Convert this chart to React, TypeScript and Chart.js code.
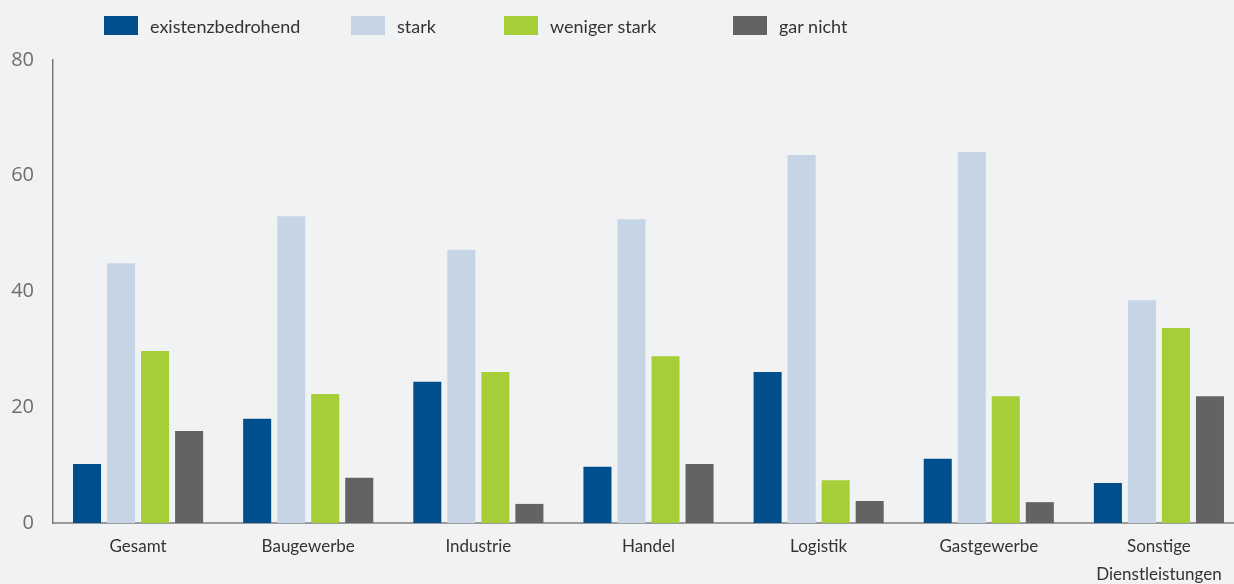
import React, { useEffect, useRef } from "react";
import { Chart, registerables } from "chart.js";

Chart.register(...registerables);

const categories: (string | string[])[] = [
  "Gesamt",
  "Baugewerbe",
  "Industrie",
  "Handel",
  "Logistik",
  "Gastgewerbe",
  ["Sonstige", "Dienstleistungen"],
];
const seriesNames = ["existenzbedrohend", "stark", "weniger stark", "gar nicht"];
const existenzbedrohend = [10.2, 18.0, 24.4, 9.7, 26.1, 11.1, 6.9];
const stark = [44.9, 53.0, 47.2, 52.5, 63.6, 64.1, 38.5];
const wenigerStark = [29.7, 22.3, 26.1, 28.8, 7.4, 21.9, 33.7];
const garNicht = [15.9, 7.8, 3.3, 10.2, 3.8, 3.6, 21.9];
const yTicks = [0, 20, 40, 60, 80];

const colors = ["#004f8c", "#c5d5e6", "#a6ce39", "#636365"];
const legendLeft = [104, 351, 504, 733];
const BG = "#f1f2f4";
const FONT = "Lato, 'Open Sans', sans-serif";

export default function App() {
  const ref = useRef<HTMLCanvasElement | null>(null);

  useEffect(() => {
    document.body.style.margin = "0";
    document.body.style.background = BG;
    const ctx = ref.current!;
    const values = [existenzbedrohend, stark, wenigerStark, garNicht];
    const chart = new Chart(ctx, {
      type: "bar",
      data: {
        labels: categories,
        datasets: seriesNames.map((name, i) => ({
          label: name,
          data: values[i],
          backgroundColor: colors[i],
          borderWidth: 0,
          categoryPercentage: 0.8,
          barPercentage: 0.824,
        })),
      },
      options: {
        animation: false,
        responsive: false,
        maintainAspectRatio: false,
        layout: { padding: { top: 60, right: 0, bottom: 0, left: 0 } },
        plugins: {
          legend: { display: false },
          tooltip: { enabled: false },
        },
        scales: {
          x: {
            grid: { display: false, drawTicks: false },
            border: { display: true, color: "#9b9b9d", width: 2 },
            ticks: {
              padding: 9,
              color: "#333333",
              font: { family: FONT, size: 17, lineHeight: 1.65 },
              maxRotation: 0,
              autoSkip: false,
            },
            afterFit: (s: any) => {
              s.height = 61;
            },
          },
          y: {
            min: 0,
            max: 80,
            afterBuildTicks: (s: any) => {
              s.ticks = yTicks.map((v) => ({ value: v }));
            },
            grid: { display: false, drawTicks: false },
            border: { display: true, color: "#7a7a7a", width: 1.5 },
            ticks: {
              padding: 19,
              color: "#6d6d6d",
              font: { family: "'Open Sans', sans-serif", size: 20 },
            },
            afterFit: (s: any) => {
              s.width = 53;
            },
          },
        },
      },
    });
    return () => chart.destroy();
  }, []);

  return (
    <div
      style={{
        position: "relative",
        width: 1234,
        height: 584,
        background: BG,
        overflow: "hidden",
      }}
    >
      <canvas ref={ref} width={1244} height={584} style={{ position: "absolute", left: 0, top: 0 }} />
      {seriesNames.map((name, i) => (
        <div
          key={name}
          style={{
            position: "absolute",
            left: legendLeft[i],
            top: 16,
            height: 19,
            display: "flex",
            alignItems: "center",
            fontFamily: FONT,
            fontSize: 18,
            color: "#333333",
            whiteSpace: "nowrap",
          }}
        >
          <span style={{ display: "inline-block", width: 34, height: 19, background: colors[i], marginRight: 12 }} />
          <span>{name}</span>
        </div>
      ))}
    </div>
  );
}
